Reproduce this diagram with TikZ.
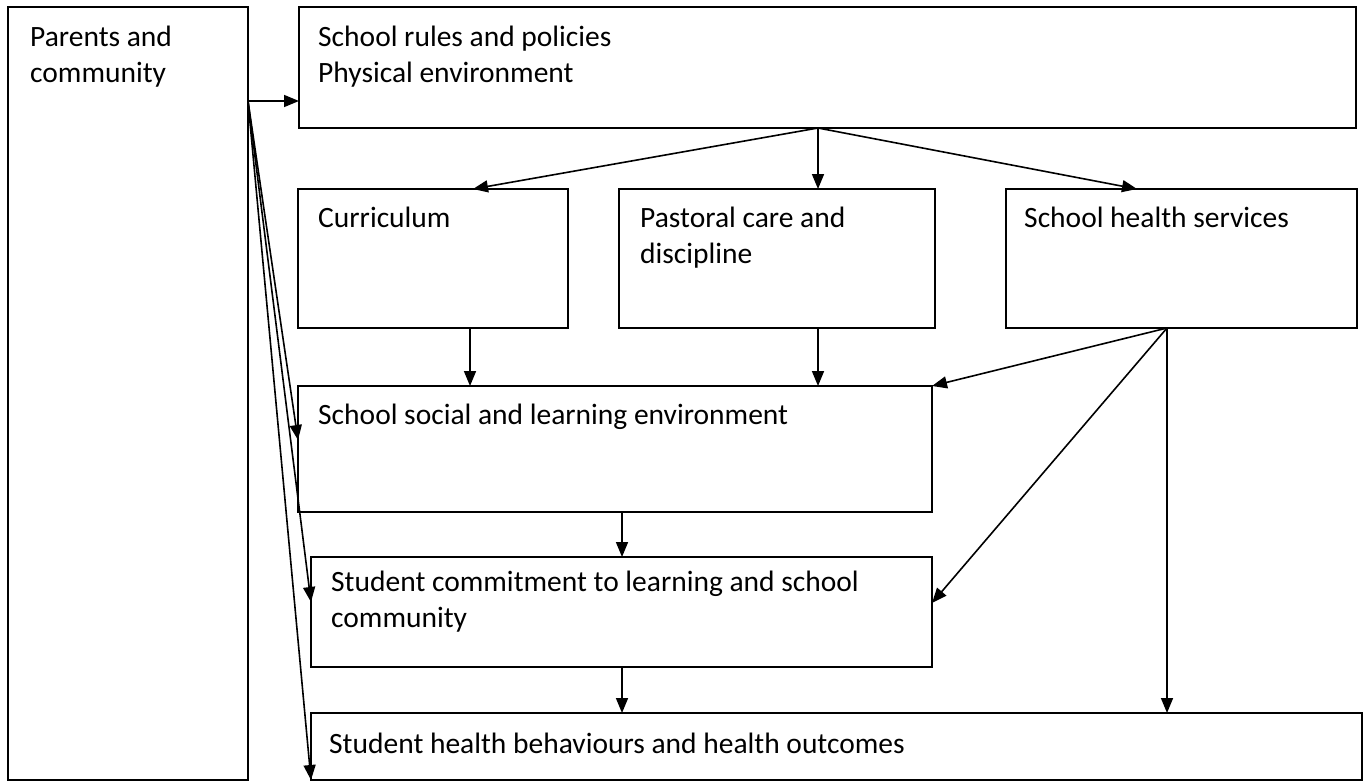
\documentclass[tikz,border=0pt]{standalone}
\usepackage{fontspec}
\setmainfont{Carlito}
\usetikzlibrary{arrows.meta,calc}
\begin{document}
\begin{tikzpicture}[x=1pt,y=-1pt,
  box/.style={draw,line width=1.7pt,inner sep=0pt,outer sep=0pt,anchor=north west},
  lbl/.style={anchor=base west,inner sep=0pt,font=\fontsize{29.5}{36}\selectfont},
  arr/.style={line width=1.6pt,-{Triangle[length=15pt,width=12pt]}}]
\useasboundingbox (0,0) rectangle (1364,782);
% boxes
\node[box,minimum width=240pt,minimum height=773pt] (par) at (8,7) {};
\node[box,minimum width=1057pt,minimum height=121pt] (top) at (299,7) {};
\node[box,minimum width=270pt,minimum height=139pt] (curr) at (298,189) {};
\node[box,minimum width=316pt,minimum height=139pt] (past) at (619,189) {};
\node[box,minimum width=351pt,minimum height=139pt] (serv) at (1006,189) {};
\node[box,minimum width=634pt,minimum height=126pt] (soc) at (298,386) {};
\node[box,minimum width=621pt,minimum height=110pt] (com) at (311,557) {};
\node[box,minimum width=1051pt,minimum height=67pt] (beh) at (311,713) {};
% texts
\node[lbl] (par1) at (30,46) {Parents and};
\node[lbl] (par2) at (30,82) {community};
\node[lbl] (top1) at (318,46) {School rules and policies};
\node[lbl] (top2) at (318,82) {Physical environment};
\node[lbl] (curr1) at (318,227) {Curriculum};
\node[lbl] (past1) at (640,227) {Pastoral care and};
\node[lbl] (past2) at (640,263) {discipline};
\node[lbl] (serv1) at (1024,227) {School health services};
\node[lbl] (soc1) at (318,424) {School social and learning environment};
\node[lbl] (com1) at (331,591) {Student commitment to learning and school};
\node[lbl] (com2) at (331,627) {community};
\node[lbl] (beh1) at (329,753) {Student health behaviours and health outcomes};
% connectors from parents
\coordinate (pa) at ($(par.north east)+(0,94)$);
\draw[arr] (pa) -- ($(top.north west)+(0,94)$);
\draw[arr] (pa) -- ($(soc.north west)+(0,54)$);
\draw[arr] (pa) -- ($(com.north west)+(0,45)$);
\draw[arr] (pa) -- (beh.south west);
% from top box
\coordinate (tb) at ($(top.south west)+(519,0)$);
\draw[arr] (tb) -- ($(curr.north west)+(175,0)$);
\draw[arr] (tb) -- ($(past.north west)+(199,0)$);
\draw[arr] (tb) -- ($(serv.north west)+(131,0)$);
% middle row to social
\draw[arr] ($(curr.south west)+(172,0)$) -- ($(soc.north west)+(172,0)$);
\draw[arr] ($(past.south west)+(199,0)$) -- ($(soc.north west)+(520,0)$);
% from health services
\coordinate (sv) at ($(serv.south west)+(161,0)$);
\draw[arr] (sv) -- (soc.north east);
\draw[arr] (sv) -- ($(com.north east)+(0,46)$);
\draw[arr] (sv) -- ($(beh.north west)+(856,0)$);
% chain
\draw[arr] ($(soc.south west)+(324,0)$) -- ($(com.north west)+(311,0)$);
\draw[arr] ($(com.south west)+(311,0)$) -- ($(beh.north west)+(311,0)$);
\end{tikzpicture}
\end{document}
